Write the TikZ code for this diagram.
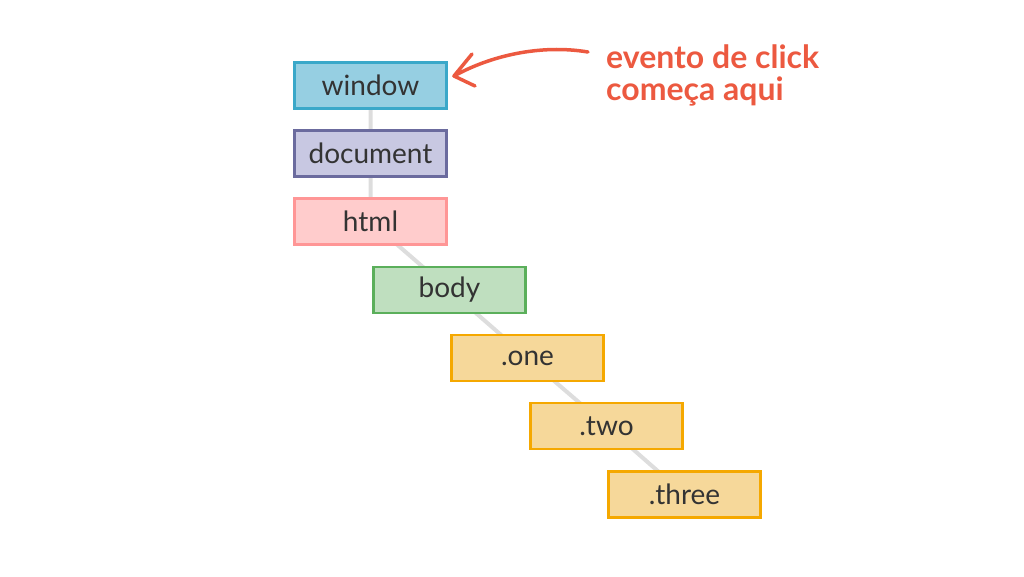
\documentclass[tikz,border=0pt]{standalone}
\usepackage{fontspec}
\setmainfont{Lato}
\usetikzlibrary{arrows.meta}
\definecolor{txt}{HTML}{333333}
\definecolor{red1}{HTML}{EC5940}
\definecolor{link}{HTML}{DDDDDD}
\definecolor{winfill}{HTML}{96CFE2}\definecolor{windraw}{HTML}{3AA8C9}
\definecolor{docfill}{HTML}{C8C8E2}\definecolor{docdraw}{HTML}{6B6B9E}
\definecolor{htmfill}{HTML}{FFCCCC}\definecolor{htmdraw}{HTML}{FF9696}
\definecolor{bodfill}{HTML}{BFDFBF}\definecolor{boddraw}{HTML}{5BAF5B}
\definecolor{orgfill}{HTML}{F6D89A}\definecolor{orgdraw}{HTML}{F5A800}
\tikzset{
  box/.style={draw, line width=2.6pt, minimum width=152pt, minimum height=46pt, inner sep=0pt, text=txt, font=\fontsize{28}{30}\selectfont},
  link/.style={draw=link, line width=4pt}
}
\begin{document}
\begin{tikzpicture}[x=1pt,y=-1pt]
\useasboundingbox (0,0) rectangle (1024,576);
\coordinate (cw) at (370.5,85.5);
\coordinate (cd) at (370.5,153.5);
\coordinate (ch) at (370.5,221.5);
\coordinate (cb) at (449.5,290);
\coordinate (c1) at (527.5,358);
\coordinate (c2) at (606.5,426);
\coordinate (c3) at (684.5,494.5);
\draw[link] (cw) -- (cd) -- (ch) -- (cb) -- (c1) -- (c2) -- (c3);
\node[box, fill=winfill, draw=windraw] (window) at (cw) {window};
\node[box, fill=docfill, draw=docdraw] (document) at (cd) {document};
\node[box, fill=htmfill, draw=htmdraw] (html) at (ch) {html};
\node[box, fill=bodfill, draw=boddraw] (body) at (cb) {body};
\node[box, fill=orgfill, draw=orgdraw] (one) at (c1) {.one};
\node[box, fill=orgfill, draw=orgdraw] (two) at (c2) {.two};
\node[box, fill=orgfill, draw=orgdraw] (three) at (c3) {.three};
\node[anchor=west, align=left, text=red1, font=\fontsize{32}{32}\selectfont\bfseries, inner sep=0pt] (lbl) at (606,75) {evento de click\\começa aqui};
\coordinate (tip) at (454,76);
\coordinate (s) at (588,52);
\draw[red1, line width=3.5pt, line cap=round, line join=round] (s) .. controls (540,44) and (490,56) .. (tip);
\draw[red1, line width=3.5pt, line cap=round, line join=round] (472,54) -- (tip) -- (475,86);
\end{tikzpicture}
\end{document}
